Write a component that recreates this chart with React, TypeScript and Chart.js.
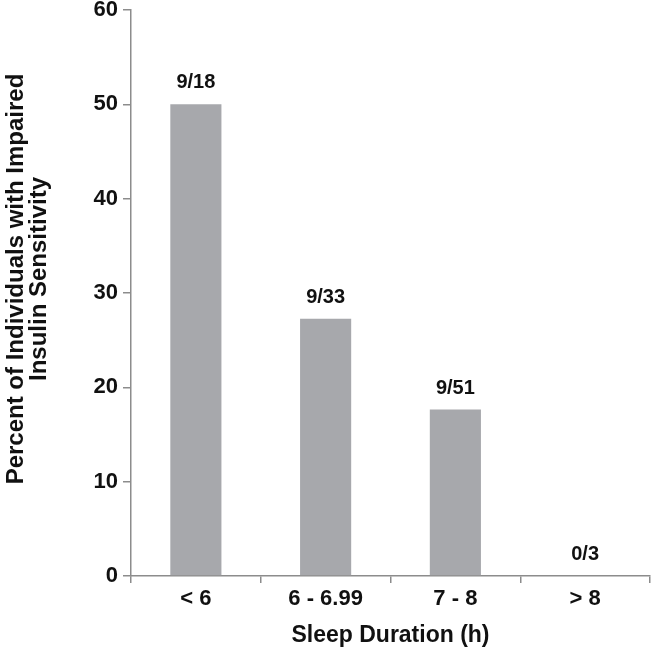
import React, { useEffect, useRef } from "react";
import { Chart, registerables } from "chart.js";

Chart.register(...registerables);

const categories = ["< 6", "6 - 6.99", "7 - 8", "> 8"];
const percentValues = [50, 27.27, 17.65, 0];
const countLabels = ["9/18", "9/33", "9/51", "0/3"];
const yTicks = [0, 10, 20, 30, 40, 50, 60];
const yTitleLines = ["Percent of Individuals with Impaired", "Insulin Sensitivity"];
const xTitle = "Sleep Duration (h)";

const FONT = "'Liberation Sans', Arial, sans-serif";
const AXIS_COLOR = "#8c8c8c";
const TEXT_COLOR = "#111";

const extraTextPlugin = {
  id: "extraText",
  afterDraw(chart: any) {
    const ctx = chart.ctx;
    const meta = chart.getDatasetMeta(0);
    const area = chart.chartArea;
    ctx.save();
    // bar count labels
    ctx.font = `bold 20px ${FONT}`;
    ctx.fillStyle = TEXT_COLOR;
    ctx.textAlign = "center";
    ctx.textBaseline = "alphabetic";
    meta.data.forEach((bar: any, i: number) => {
      ctx.fillText(countLabels[i], bar.x, bar.y - 16);
    });
    // x title
    ctx.font = `bold 23px ${FONT}`;
    ctx.textBaseline = "middle";
    ctx.fillText(xTitle, (area.left + area.right) / 2, 636);
    // y title
    ctx.font = `bold 24px ${FONT}`;
    const cy = (area.top + area.bottom) / 2 - 14;
    const xs = [16, 39];
    yTitleLines.forEach((line, i) => {
      ctx.save();
      ctx.translate(xs[i], cy);
      ctx.rotate(-Math.PI / 2);
      ctx.fillText(line, 0, 0);
      ctx.restore();
    });
    ctx.restore();
  },
};

export default function App() {
  const ref = useRef<HTMLCanvasElement>(null);
  useEffect(() => {
    if (!ref.current) return;
    const chart = new Chart(ref.current, {
      type: "bar",
      data: {
        labels: categories,
        datasets: [
          {
            data: percentValues,
            backgroundColor: "#a7a8ac",
            barPercentage: 0.394,
            categoryPercentage: 1,
          },
        ],
      },
      options: {
        responsive: false,
        animation: false,
        layout: { padding: { top: 0, right: 1, left: 0, bottom: 0 } },
        plugins: { legend: { display: false }, tooltip: { enabled: false } },
        scales: {
          x: {
            offset: true,
            grid: {
              offset: true,
              drawOnChartArea: false,
              drawTicks: true,
              tickLength: 7,
              color: AXIS_COLOR,
              lineWidth: 1.5,
            },
            border: { display: true, color: AXIS_COLOR, width: 1.5 },
            ticks: {
              color: TEXT_COLOR,
              font: { family: FONT, size: 22, weight: "bold" },
              padding: 3,
            },
            afterFit(scale: any) {
              scale.height = 74;
            },
          },
          y: {
            min: 0,
            max: 60,
            afterBuildTicks(scale: any) {
              scale.ticks = yTicks.map((v) => ({ value: v }));
            },
            grid: {
              drawOnChartArea: false,
              drawTicks: true,
              tickLength: 8,
              color: AXIS_COLOR,
              lineWidth: 1.5,
            },
            border: { display: true, color: AXIS_COLOR, width: 1.5 },
            ticks: {
              color: TEXT_COLOR,
              font: { family: FONT, size: 22, weight: "bold" },
              padding: 5,
            },
            afterFit(scale: any) {
              scale.width = 131;
              scale.paddingTop = 10;
              scale.paddingBottom = 0;
            },
          },
        },
      },
      plugins: [extraTextPlugin],
    });
    return () => chart.destroy();
  }, []);
  return (
    <div style={{ position: "fixed", left: 0, top: 0, width: 651, height: 650, background: "#fff" }}>
      <canvas ref={ref} width={651} height={650} style={{ width: 651, height: 650 }} />
    </div>
  );
}
